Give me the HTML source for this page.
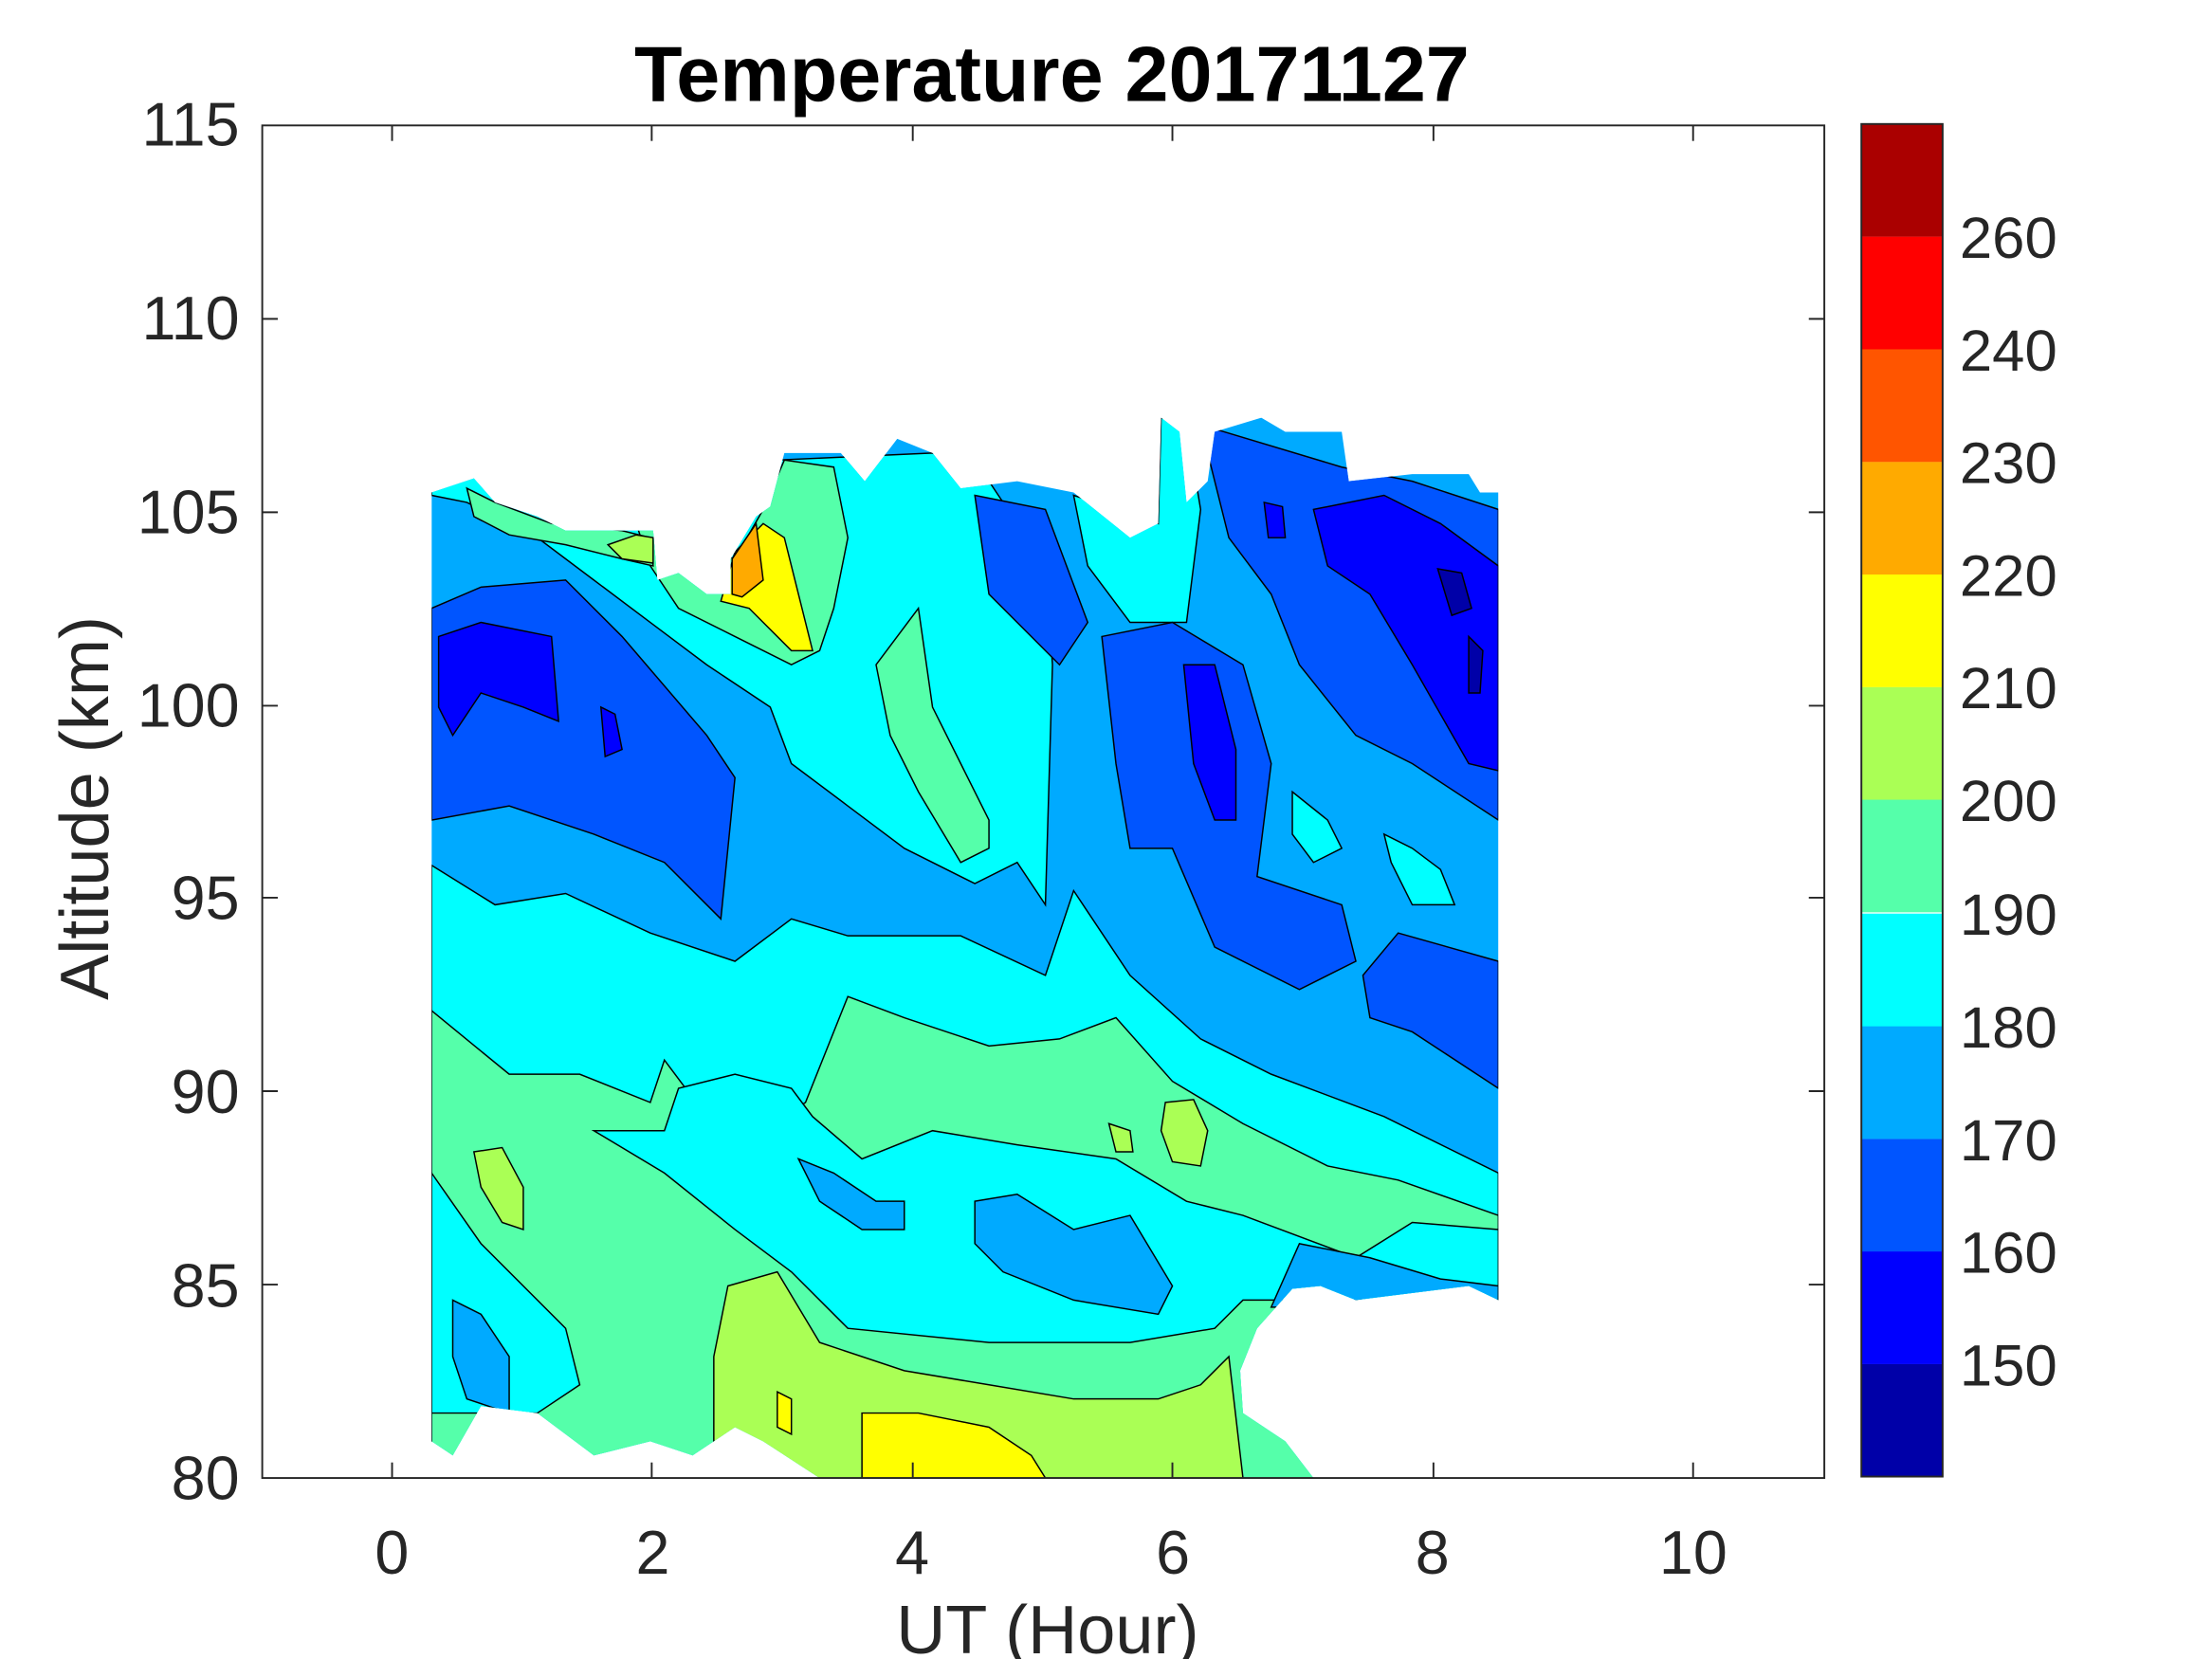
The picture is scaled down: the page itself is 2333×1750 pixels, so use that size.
<!DOCTYPE html>
<html><head><meta charset="utf-8"><style>
html,body{margin:0;padding:0;background:#fff;}
svg{display:block;}
text{font-family:"Liberation Sans",Arial,sans-serif;fill:#262626;}
</style></head><body>
<svg width="2333" height="1750" viewBox="0 0 1552 1164" preserveAspectRatio="none" xmlns="http://www.w3.org/2000/svg">
<defs>
<clipPath id="dc"><polygon points="305,348 335,338 350,355 380,365 400,375 430,375 462,375 465,410 480,405 500,420 517,420 517,395 535,365 545,358 555,320 595,320 612,340 635,310 660,320 680,345 720,340 760,348 775,360 800,380 820,370 822,295 835,305 840,355 855,340 860,305 893,295 910,305 950,305 955,340 1000,335 1040,335 1048,348 1061,348 1061,920 1040,910 960,920 935,910 915,912 890,940 878,970 880,1000 910,1020 930,1046 580,1046 540,1020 520,1010 490,1030 460,1020 420,1030 380,1000 340,995 320,1030 305,1020"/></clipPath>
</defs>
<rect x="0" y="0" width="1552" height="1164" fill="#fff"/>
<g transform="translate(0.84,0.83) scale(0.99006,0.99061)">
<g clip-path="url(#dc)" stroke="#000" stroke-width="1">
<rect x="300" y="290" width="770" height="760" fill="#00aaff"/>
<polygon fill="#00ffff" points="305,612 350,640 400,632 460,660 520,680 560,650 600,662 680,662 740,690 760,630 800,690 850,735 900,760 980,790 1061,830 1061,1046 305,1046"/>
<polygon fill="#55ffaa" points="305,715 360,760 410,760 460,780 470,750 500,790 540,800 570,780 600,705 640,720 700,740 750,735 790,720 830,765 880,795 940,825 990,835 1061,860 1061,1046 305,1046"/>
<polygon fill="#00ffff" points="420,800 470,830 520,870 560,900 600,940 700,950 800,950 860,940 880,920 1061,920 1061,870 1000,865 960,890 880,860 840,850 790,820 720,810 660,800 610,820 575,790 560,770 520,760 480,770 470,800"/>
<polygon fill="#00ffff" points="305,830 340,880 400,940 410,980 380,1000 305,1000"/>
<polygon fill="#aaff55" points="505,960 515,910 550,900 580,950 640,970 700,980 760,990 820,990 850,980 870,960 880,1046 505,1046"/>
<polygon fill="#aaff55" points="335,815 355,812 370,840 370,870 355,865 340,840"/>
<polygon fill="#aaff55" points="785,795 800,800 802,815 790,815"/>
<polygon fill="#aaff55" points="825,780 845,778 855,800 850,825 830,822 822,800"/>
<polygon fill="#ffff00" points="610,1000 650,1000 700,1010 730,1030 740,1046 610,1046"/>
<polygon fill="#ffff00" points="550,985 560,990 560,1015 550,1010"/>
<polygon fill="#00aaff" points="320,920 340,930 360,960 360,1000 330,990 320,960"/>
<polygon fill="#00aaff" points="690,850 720,845 760,870 800,860 830,910 820,930 760,920 710,900 690,880"/>
<polygon fill="#00aaff" points="565,820 590,830 620,850 640,850 640,870 610,870 580,850"/>
<polygon fill="#00aaff" points="920,880 970,890 1020,905 1061,910 1061,925 900,925"/>
<polygon fill="#00ffff" points="440,330 660,320 700,340 740,400 745,470 740,640 720,610 690,625 640,600 600,570 560,540 545,500 500,470 460,440 420,410 380,380 330,355 305,350 305,330"/>
<polygon fill="#55ffaa" points="450,370 480,380 520,395 540,360 555,325 590,330 600,380 590,430 580,460 560,470 520,450 480,430 460,400"/>
<polygon fill="#55ffaa" points="620,470 650,430 660,500 680,540 700,580 700,600 680,610 650,560 630,520"/>
<polygon fill="#55ffaa" points="330,345 350,355 390,370 440,375 460,380 462,400 440,395 400,385 360,378 335,365"/>
<polygon fill="#aaff55" points="430,385 450,378 462,380 462,398 440,395"/>
<polygon fill="#ffff00" points="510,425 520,390 540,370 555,380 570,440 575,460 560,460 530,430"/>
<polygon fill="#ffaa00" points="518,395 535,370 540,410 525,422 518,420"/>
<polygon fill="#00ffff" points="760,350 820,370 822,295 840,300 850,360 840,440 800,440 770,400"/>
<polygon fill="#0055ff" points="305,430 340,415 400,410 440,450 500,520 520,550 510,650 470,610 420,590 360,570 305,580"/>
<polygon fill="#0000ff" points="310,450 340,440 390,450 395,510 370,500 340,490 320,520 310,500"/>
<polygon fill="#0000ff" points="425,500 435,505 440,530 428,535"/>
<polygon fill="#0055ff" points="690,350 740,360 770,440 750,470 700,420"/>
<polygon fill="#0055ff" points="780,450 830,440 880,470 900,540 890,620 950,640 960,680 920,700 860,670 830,600 800,600 790,540"/>
<polygon fill="#0055ff" points="850,300 950,330 1000,340 1061,360 1061,580 1000,540 960,520 920,470 900,420 870,380"/>
<polygon fill="#0000ff" points="930,360 980,350 1020,370 1061,400 1061,545 1040,540 1000,470 970,420 940,400"/>
<polygon fill="#0000ff" points="838,470 860,470 875,530 875,580 860,580 845,540"/>
<polygon fill="#0000ff" points="895,355 908,358 910,380 898,380"/>
<polygon fill="#0000a8" points="1018,402 1035,405 1042,430 1028,435"/>
<polygon fill="#0000a8" points="1040,450 1050,460 1048,490 1040,490"/>
<polygon fill="#0055ff" points="965,690 990,660 1061,680 1061,770 1000,730 970,720"/>
<polygon fill="#00ffff" points="915,560 940,580 950,600 930,610 915,590"/>
<polygon fill="#00ffff" points="980,590 1000,600 1020,615 1030,640 1000,640 985,610"/>
</g>
<rect x="185" y="88" width="1107" height="958" fill="none" stroke="#262626" stroke-width="1.3"/>
<g stroke="#262626" stroke-width="1.3">
<line x1="277" y1="1046" x2="277" y2="1035"/><line x1="277" y1="88" x2="277" y2="99"/>
<line x1="461" y1="1046" x2="461" y2="1035"/><line x1="461" y1="88" x2="461" y2="99"/>
<line x1="646" y1="1046" x2="646" y2="1035"/><line x1="646" y1="88" x2="646" y2="99"/>
<line x1="830" y1="1046" x2="830" y2="1035"/><line x1="830" y1="88" x2="830" y2="99"/>
<line x1="1015" y1="1046" x2="1015" y2="1035"/><line x1="1015" y1="88" x2="1015" y2="99"/>
<line x1="1199" y1="1046" x2="1199" y2="1035"/><line x1="1199" y1="88" x2="1199" y2="99"/>
<line x1="185" y1="225" x2="196" y2="225"/><line x1="1292" y1="225" x2="1281" y2="225"/>
<line x1="185" y1="362" x2="196" y2="362"/><line x1="1292" y1="362" x2="1281" y2="362"/>
<line x1="185" y1="499" x2="196" y2="499"/><line x1="1292" y1="499" x2="1281" y2="499"/>
<line x1="185" y1="635" x2="196" y2="635"/><line x1="1292" y1="635" x2="1281" y2="635"/>
<line x1="185" y1="772" x2="196" y2="772"/><line x1="1292" y1="772" x2="1281" y2="772"/>
<line x1="185" y1="909" x2="196" y2="909"/><line x1="1292" y1="909" x2="1281" y2="909"/>
</g>
</g>
<g font-size="43" text-anchor="end">
<text x="168" y="102">115</text><text x="168" y="238">110</text><text x="168" y="374">105</text>
<text x="168" y="510">100</text><text x="168" y="645">95</text><text x="168" y="781">90</text>
<text x="168" y="917">85</text><text x="168" y="1052">80</text>
</g>
<g font-size="43" text-anchor="middle">
<text x="275" y="1104">0</text><text x="458" y="1104">2</text><text x="640" y="1104">4</text>
<text x="823" y="1104">6</text><text x="1005" y="1104">8</text><text x="1188" y="1104">10</text>
<text x="735" y="1160" font-size="48">UT (Hour)</text>
<text x="738" y="71" font-size="55" font-weight="bold" style="fill:#000">Temperature 20171127</text>
<text transform="translate(76,567) rotate(-90)" font-size="48">Altitude (km)</text>
</g>
<g>
<rect x="1306" y="957" width="57" height="79.1" fill="#0000a8"/>
<rect x="1306" y="878" width="57" height="79.1" fill="#0000ff"/>
<rect x="1306" y="799" width="57" height="79.1" fill="#0055ff"/>
<rect x="1306" y="720" width="57" height="79.1" fill="#00aaff"/>
<rect x="1306" y="641" width="57" height="79.1" fill="#00ffff"/>
<rect x="1306" y="561" width="57" height="79.1" fill="#55ffaa"/>
<rect x="1306" y="482" width="57" height="79.1" fill="#aaff55"/>
<rect x="1306" y="403" width="57" height="79.1" fill="#ffff00"/>
<rect x="1306" y="324" width="57" height="79.1" fill="#ffaa00"/>
<rect x="1306" y="245" width="57" height="79.1" fill="#ff5500"/>
<rect x="1306" y="166" width="57" height="79.1" fill="#ff0000"/>
<rect x="1306" y="87" width="57" height="79" fill="#aa0000"/>
<rect x="1306" y="87" width="57" height="949" fill="none" stroke="#262626" stroke-width="1.3"/>
</g>
<g font-size="41">
<text x="1375" y="972">150</text><text x="1375" y="893">160</text><text x="1375" y="814">170</text>
<text x="1375" y="735">180</text><text x="1375" y="656">190</text><text x="1375" y="576">200</text>
<text x="1375" y="497">210</text><text x="1375" y="418">220</text><text x="1375" y="339">230</text>
<text x="1375" y="260">240</text><text x="1375" y="181">260</text>
</g>
</svg>
</body></html>
